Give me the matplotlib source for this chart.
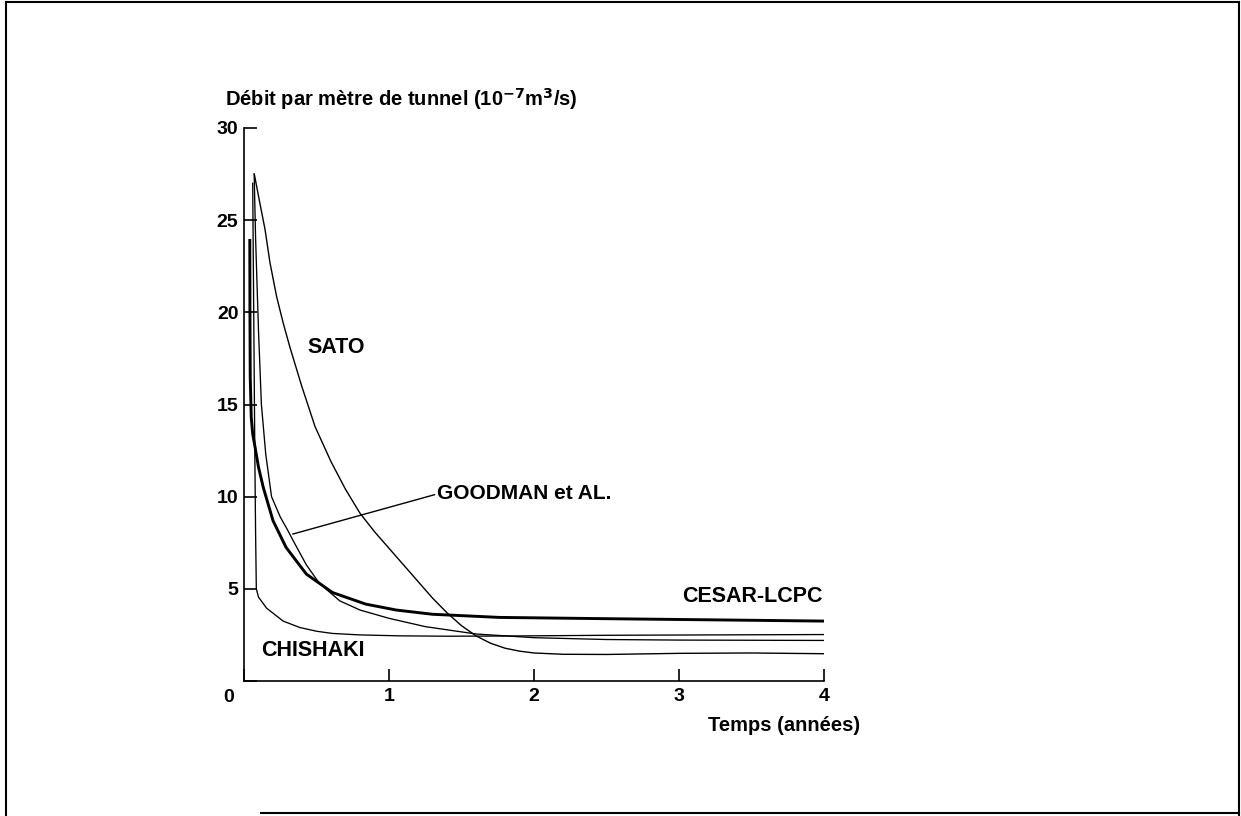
import matplotlib
matplotlib.use("Agg")
import matplotlib.pyplot as plt
from matplotlib.lines import Line2D

plt.rcParams['font.family'] = ['Liberation Sans', 'DejaVu Sans']
plt.rcParams['font.weight'] = 'bold'

# Values (time in years, flow in 1e-7 m3/s)
cesar_t = [0.04, 0.041, 0.043, 0.05, 0.06, 0.076, 0.1, 0.133, 0.2, 0.29, 0.43, 0.61, 0.84, 1.05, 1.3, 1.76, 2.5, 3.2, 4.0]
cesar_q = [23.9, 20.0, 16.5, 14.3, 13.4, 12.7, 11.6, 10.5, 8.7, 7.25, 5.8, 4.8, 4.17, 3.85, 3.62, 3.45, 3.38, 3.32, 3.25]

sato_t = [0.071, 0.11, 0.145, 0.179, 0.225, 0.271, 0.317, 0.398, 0.49, 0.6, 0.7, 0.8, 0.9, 1.0, 1.1, 1.2,
          1.3, 1.4, 1.5, 1.6, 1.7, 1.8, 1.9, 2.0, 2.2, 2.5, 3.0, 3.5, 4.0]
sato_q = [27.5, 25.9, 24.5, 22.7, 20.85, 19.4, 18.1, 16.0, 13.8, 11.9, 10.4, 9.1, 8.1, 7.2, 6.3, 5.4,
          4.5, 3.7, 3.0, 2.45, 2.05, 1.78, 1.62, 1.52, 1.45, 1.44, 1.5, 1.52, 1.48]

goodman_t = [0.07, 0.08, 0.1, 0.12, 0.15, 0.19, 0.25, 0.3, 0.34, 0.43, 0.52, 0.66, 0.8, 1.0, 1.25, 1.6, 2.0, 2.5, 3.0, 4.0]
goodman_q = [27.5, 24.0, 19.0, 15.0, 12.3, 10.0, 8.9, 8.2, 7.6, 6.3, 5.3, 4.35, 3.85, 3.4, 2.95, 2.55, 2.35, 2.25, 2.22, 2.2]

chishaki_t = [0.06, 0.065, 0.07, 0.075, 0.08, 0.085, 0.1, 0.156, 0.27, 0.386, 0.5, 0.61, 0.8, 1.07, 1.4, 1.8, 2.5, 3.2, 4.0]
chishaki_q = [27.0, 22.0, 17.0, 12.0, 8.0, 5.0, 4.55, 3.95, 3.25, 2.9, 2.7, 2.58, 2.5, 2.45, 2.43, 2.44, 2.48, 2.5, 2.52]

x_ticks = [0, 1, 2, 3, 4]
x_labels = ['', '1', '2', '3', '4']
y_ticks = [0, 5, 10, 15, 20, 25, 30]
y_labels = ['', '5', '10', '15', '20', '25', '30']

fig = plt.figure(figsize=(12.41, 8.16), dpi=100)
ax = fig.add_axes([244 / 1241, 1 - 681 / 816, 580 / 1241, 553 / 816])

ax.plot(sato_t, sato_q, color='black', lw=1.0)
ax.plot(goodman_t, goodman_q, color='black', lw=0.95)
ax.plot(chishaki_t, chishaki_q, color='black', lw=0.95)
ax.plot(cesar_t, cesar_q, color='black', lw=2.1)

ax.set_xlim(0, 4)
ax.set_ylim(0, 30)
ax.set_xticks(x_ticks)
ax.set_xticklabels(x_labels)
ax.set_yticks(y_ticks)
ax.set_yticklabels(y_labels)
ax.spines['top'].set_visible(False)
ax.spines['right'].set_visible(False)
ax.spines['left'].set_linewidth(1.2)
ax.spines['bottom'].set_linewidth(1.2)
ax.tick_params(direction='in', length=9, width=1.2, labelsize=14)
ax.tick_params(axis='x', pad=5)
ax.tick_params(axis='y', pad=4)

ax.annotate('0', xy=(0, 0), xytext=(-11, -12), textcoords='offset points',
            ha='center', va='center', fontsize=14)
ax.annotate('Débit par mètre de tunnel (10$^{\\mathbf{-7}}$m$^{\\mathbf{3}}$/s)', xy=(0, 30),
            xytext=(-14, 21), textcoords='offset points', ha='left', va='center',
            fontsize=14.5, annotation_clip=False)
ax.annotate('Temps (années)', xy=(4, 0), xytext=(26, -32), textcoords='offset points',
            ha='right', va='center', fontsize=14.5, annotation_clip=False)

ax.text(0.634, 18.1, 'SATO', ha='center', va='center', fontsize=15.5)
ax.text(0.472, 1.68, 'CHISHAKI', ha='center', va='center', fontsize=15.5)
ax.text(3.99, 4.57, 'CESAR-LCPC', ha='right', va='center', fontsize=15.5)
ax.annotate('GOODMAN et AL.', xy=(0.336, 7.97), xytext=(1.334, 10.15),
            ha='left', va='center', fontsize=15,
            arrowprops=dict(arrowstyle='-', color='black', lw=1.0,
                            shrinkA=0, shrinkB=0, relpos=(0, 0.5)))

# scanned page frame
frame = dict(transform=fig.transFigure, color='black', lw=1.5)
fig.add_artist(Line2D([0.005, 0.998], [0.997, 0.997], **frame))
fig.add_artist(Line2D([0.005, 0.005], [0.0, 0.997], **frame))
fig.add_artist(Line2D([0.998, 0.998], [0.0, 0.997], **frame))
fig.add_artist(Line2D([0.21, 0.998], [0.004, 0.004], **frame))

fig.savefig('out.png', dpi=100)
